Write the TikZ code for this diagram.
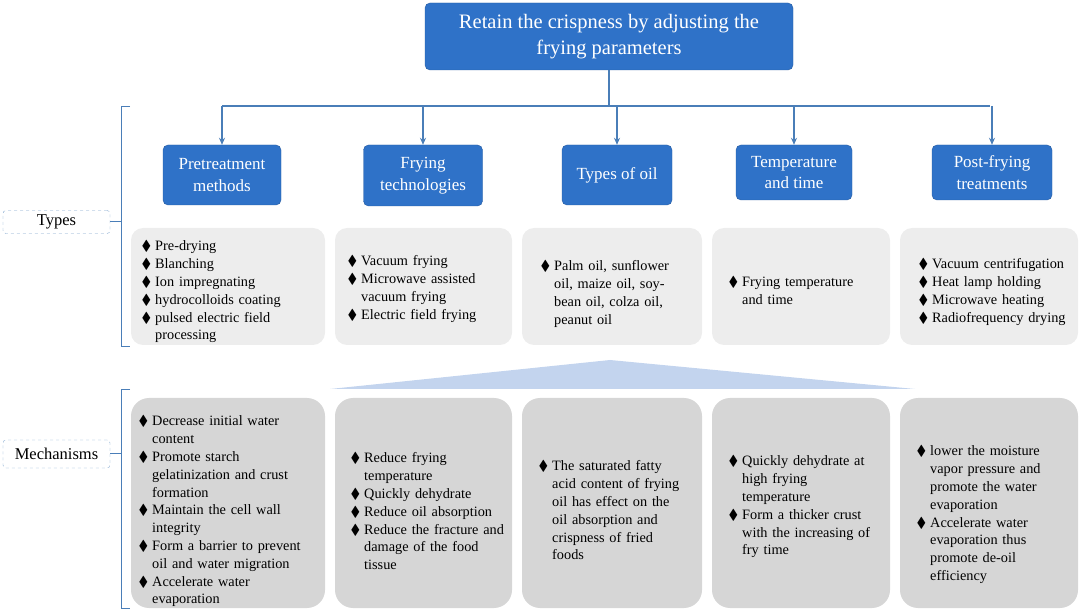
\documentclass[tikz,border=0pt]{standalone}
\usepackage{amssymb}
\usepackage{fontspec}
\setmainfont{Liberation Serif}
\usetikzlibrary{arrows.meta}
\definecolor{bl}{HTML}{2F72C8}
\definecolor{lg}{HTML}{EDEDED}
\definecolor{dg}{HTML}{D6D6D6}
\definecolor{br}{HTML}{4A7EB8}
\definecolor{tri}{HTML}{C3D4EE}
\newcommand{\bi}{\item[\raisebox{0pt}{\Large$\blacklozenge$}]}
\newenvironment{bl}{\begin{list}{}{\leftmargin=18pt\labelwidth=13pt\labelsep=4pt\itemsep=0pt\parsep=0pt\topsep=0pt}}{\end{list}}
\begin{document}
\begin{tikzpicture}[x=1pt,y=-1pt,
  cat/.style={fill=bl,draw=bl!80!black,rounded corners=5pt,text=white,align=center,font=\fontsize{17}{21.5}\selectfont,inner sep=0pt},
  lbox/.style={fill=lg,rounded corners=12pt},
  dbox/.style={fill=dg,rounded corners=18pt},
  txt/.style={anchor=north west,align=left,font=\fontsize{14.3}{17.8}\selectfont,inner sep=0pt},
  arr/.style={draw=br,line width=1.3pt,-{Stealth[length=7pt,width=6pt]}},
  brk/.style={draw=br,line width=1pt},
  lab/.style={draw=br!70,dashed,rounded corners=3pt,font=\fontsize{16.5}{18}\selectfont,inner sep=0pt}]
\useasboundingbox (0,0) rectangle (1080,612);
% title
\node[cat,minimum width=368pt,minimum height=67pt,font=\fontsize{20.5}{26}\selectfont] (title) at (609,36.5) {Retain the crispness by adjusting the\\frying parameters};
% categories
\node[cat,minimum width=118pt,minimum height=60pt] (c1) at (222,175) {Pretreatment\\methods};
\node[cat,minimum width=119pt,minimum height=61pt] (c2) at (423,175.5) {Frying\\technologies};
\node[cat,minimum width=110pt,minimum height=60pt] (c3) at (617,175) {Types of oil};
\node[cat,minimum width=116pt,minimum height=55pt] (c4) at (794,172.5) {Temperature\\and time};
\node[cat,minimum width=120pt,minimum height=55pt] (c5) at (992,172.5) {Post-frying\\treatments};
\coordinate (j) at (609,106);
\draw[draw=br,line width=1.3pt] (title.south) -- (j);
\draw[draw=br,line width=1.3pt] (222,106) -- (990,106);
\foreach \c in {c1,c2,c3,c4,c5}{\draw[arr] (\c.north |- j) -- (\c.north);}
% type boxes
\fill[lbox] (131,228) rectangle (325,345);
\fill[lbox] (335,228) rectangle (512,345);
\fill[lbox] (522,228) rectangle (702,345);
\fill[lbox] (712,228) rectangle (890,345);
\fill[lbox] (900,228) rectangle (1078,345);
\node[txt,text width=160pt] (t1) at (137,233) {\begin{bl}\bi Pre-drying\bi Blanching\bi Ion impregnating\bi hydrocolloids coating\bi pulsed electric field processing\end{bl}};
\node[txt,text width=150pt] (t2) at (343,248) {\begin{bl}\bi Vacuum frying\bi Microwave assisted vacuum frying\bi Electric field frying\end{bl}};
\node[txt,text width=140pt] (t3) at (536,253) {\begin{bl}\bi Palm oil, sunflower oil, maize oil, soy-\linebreak bean oil, colza oil, peanut oil\end{bl}};
\node[txt,text width=150pt] (t4) at (724,269) {\begin{bl}\bi Frying temperature and time\end{bl}};
\node[txt,text width=170pt] (t5) at (914,251) {\begin{bl}\bi Vacuum centrifugation\bi Heat lamp holding\bi Microwave heating\bi Radiofrequency drying\end{bl}};
% triangle
\fill[tri] (330,389) -- (610,360) -- (915,389) -- cycle;
% mechanism boxes
\fill[dbox] (131,398) rectangle (325,608);
\fill[dbox] (335,398) rectangle (512,608);
\fill[dbox] (522,398) rectangle (702,608);
\fill[dbox] (712,398) rectangle (890,608);
\fill[dbox] (900,398) rectangle (1078,608);
\node[txt,text width=172pt] (m1) at (134,408) {\begin{bl}\bi Decrease initial water content\bi Promote starch gelatinization and crust formation\bi Maintain the cell wall integrity\bi Form a barrier to prevent oil and water migration\bi Accelerate water evaporation\end{bl}};
\node[txt,text width=165pt] (m2) at (346,445) {\begin{bl}\bi Reduce frying temperature\bi Quickly dehydrate\bi Reduce oil absorption\bi Reduce the fracture and damage of the food tissue\end{bl}};
\node[txt,text width=150pt] (m3) at (534,453) {\begin{bl}\bi The saturated fatty acid content of frying oil has effect on the oil absorption and crispness of fried foods\end{bl}};
\node[txt,text width=155pt] (m4) at (724,448) {\begin{bl}\bi Quickly dehydrate at high frying temperature\bi Form a thicker crust with the increasing of fry time\end{bl}};
\node[txt,text width=142pt] (m5) at (912,438) {\begin{bl}\bi lower the moisture vapor pressure and promote the water evaporation\bi Accelerate water evaporation thus promote de-oil efficiency\end{bl}};
% brackets and labels
\draw[brk] (130,107) -- (121,107) -- (121,347) -- (130,347);
\draw[brk] (130,390) -- (121,390) -- (121,608) -- (130,608);
\node[lab,minimum width=107pt,minimum height=23pt] (L1) at (56.5,222) {Types};
\node[lab,minimum width=107pt,minimum height=28pt] (L2) at (56.5,454) {Mechanisms};
\draw[brk] (L1.east) -- (121,222);
\draw[brk] (L2.east) -- (121,454);
\end{tikzpicture}
\end{document}
